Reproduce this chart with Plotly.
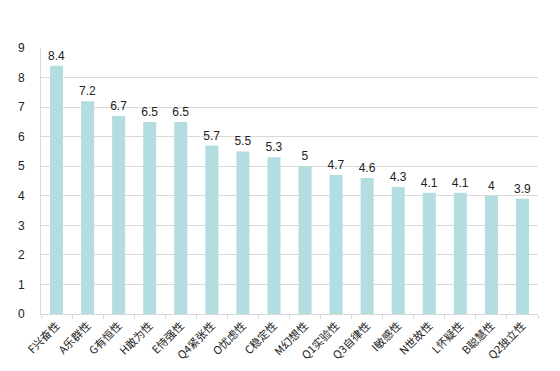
import plotly.graph_objects as go

categories = ["F兴奋性", "A乐群性", "G有恒性", "H敢为性", "E恃强性", "Q4紧张性", "O忧虑性", "C稳定性",
              "M幻想性", "Q1实验性", "Q3自律性", "I敏感性", "N世故性", "L怀疑性", "B聪慧性", "Q2独立性"]
values = [8.4, 7.2, 6.7, 6.5, 6.5, 5.7, 5.5, 5.3, 5, 4.7, 4.6, 4.3, 4.1, 4.1, 4, 3.9]
y_ticks = [0, 1, 2, 3, 4, 5, 6, 7, 8, 9]

fig = go.Figure(go.Bar(
    x=categories, y=values,
    marker=dict(color="#b3dde0", line=dict(width=0)),
    text=[str(v) for v in values], textposition="outside", constraintext="none",
    textfont=dict(size=12, color="#222222", family="Arial, Liberation Sans, sans-serif"),
    cliponaxis=False,
))
fig.update_layout(
    width=560, height=371,
    margin=dict(l=33, r=30, t=40, b=65),
    plot_bgcolor="white", paper_bgcolor="white",
    bargap=0.58, showlegend=False,
    font=dict(family="Noto Sans CJK SC, Arial, sans-serif", size=11, color="#222222"),
)
fig.update_yaxes(range=[0, 9], tickvals=y_ticks, showgrid=True, gridcolor="#d9d9d9", gridwidth=1,
                 showline=True, linecolor="#d9d9d9", zeroline=False, automargin=False,
                 tickfont=dict(size=12, family="Arial, Liberation Sans, sans-serif"), ticks="", ticklabelstandoff=13)
fig.update_xaxes(tickangle=-45, showline=True, linecolor="#d9d9d9", ticks="outside", tickson="boundaries",
                 ticklen=4, tickcolor="#d9d9d9", tickfont=dict(size=11), automargin=False)
fig.write_html("out.html")
